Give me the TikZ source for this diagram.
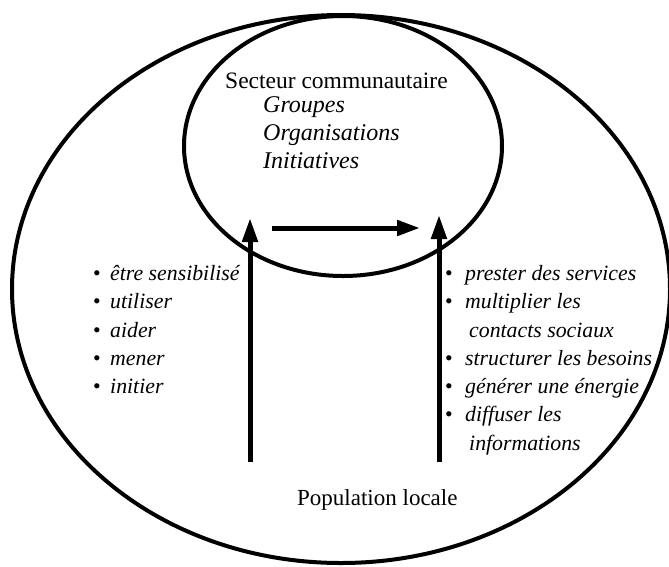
\documentclass[tikz,border=0pt]{standalone}
\usepackage{fontspec}
\setmainfont{Liberation Serif}
\usetikzlibrary{arrows.meta}
\tikzset{
  ring/.style={line width=4pt},
  flow/.style={line width=5pt,-{Triangle[length=24pt,width=15pt]}},
  hflow/.style={line width=5pt,-{Triangle[length=23pt,width=15pt]}},
  head/.style={anchor=base west,inner sep=0pt,font=\fontsize{23.5}{28}\selectfont},
  sub/.style={anchor=base west,inner sep=0pt,font=\fontsize{24}{28}\selectfont\itshape},
  item/.style={anchor=base west,inner sep=0pt,font=\fontsize{21.8}{26}\selectfont\itshape},
  dot/.style={anchor=base west,inner sep=0pt,font=\fontsize{21.8}{26}\selectfont},
  pop/.style={anchor=base west,inner sep=0pt,font=\fontsize{23}{28}\selectfont}
}
\begin{document}
\begin{tikzpicture}[x=1pt,y=-1pt]
\useasboundingbox (0,0) rectangle (669,566);
% ellipses
\draw[ring] (341,289) ellipse [x radius=329pt, y radius=274pt];
\draw[ring] (343,146) ellipse [x radius=159pt, y radius=130pt];
% texts in small ellipse
\node[head] (sect) at (225,88) {Secteur communautaire};
\node[sub] (grp) at (263,112) {Groupes};
\node[sub] (org) at (263,140) {Organisations};
\node[sub] (ini) at (263,168) {Initiatives};
% arrows
\coordinate (la0) at (250,462);
\coordinate (la1) at (250,218);
\coordinate (ra0) at (439,462);
\coordinate (ra1) at (439,215);
\coordinate (ha0) at (272,228);
\coordinate (ha1) at (420,228);
\draw[flow] (la0) -- (la1);
\draw[flow] (ra0) -- (ra1);
\draw[hflow] (ha0) -- (ha1);
% left list
\node[dot] (lb1) at (93,280) {•};
\node[dot] (lb2) at (93,308) {•};
\node[dot] (lb3) at (93,337) {•};
\node[dot] (lb4) at (93,365) {•};
\node[dot] (lb5) at (93,393) {•};
\node[item] (l1) at (110,280) {être sensibilisé};
\node[item] (l2) at (110,308) {utiliser};
\node[item] (l3) at (110,337) {aider};
\node[item] (l4) at (110,365) {mener};
\node[item] (l5) at (110,393) {initier};
% right list
\node[dot] (rb1) at (445,280) {•};
\node[dot] (rb2) at (445,308) {•};
\node[dot] (rb4) at (445,365) {•};
\node[dot] (rb5) at (445,393) {•};
\node[dot] (rb6) at (445,421) {•};
\node[item] (r1) at (465,280) {prester des services};
\node[item] (r2) at (465,308) {multiplier les};
\node[item] (r3) at (469,337) {contacts sociaux};
\node[item] (r4) at (465,365) {structurer les besoins};
\node[item] (r5) at (465,393) {générer une énergie};
\node[item] (r6) at (465,421) {diffuser les};
\node[item] (r7) at (469,450) {informations};
% bottom
\node[pop] (popl) at (297,505) {Population locale};
\end{tikzpicture}
\end{document}
